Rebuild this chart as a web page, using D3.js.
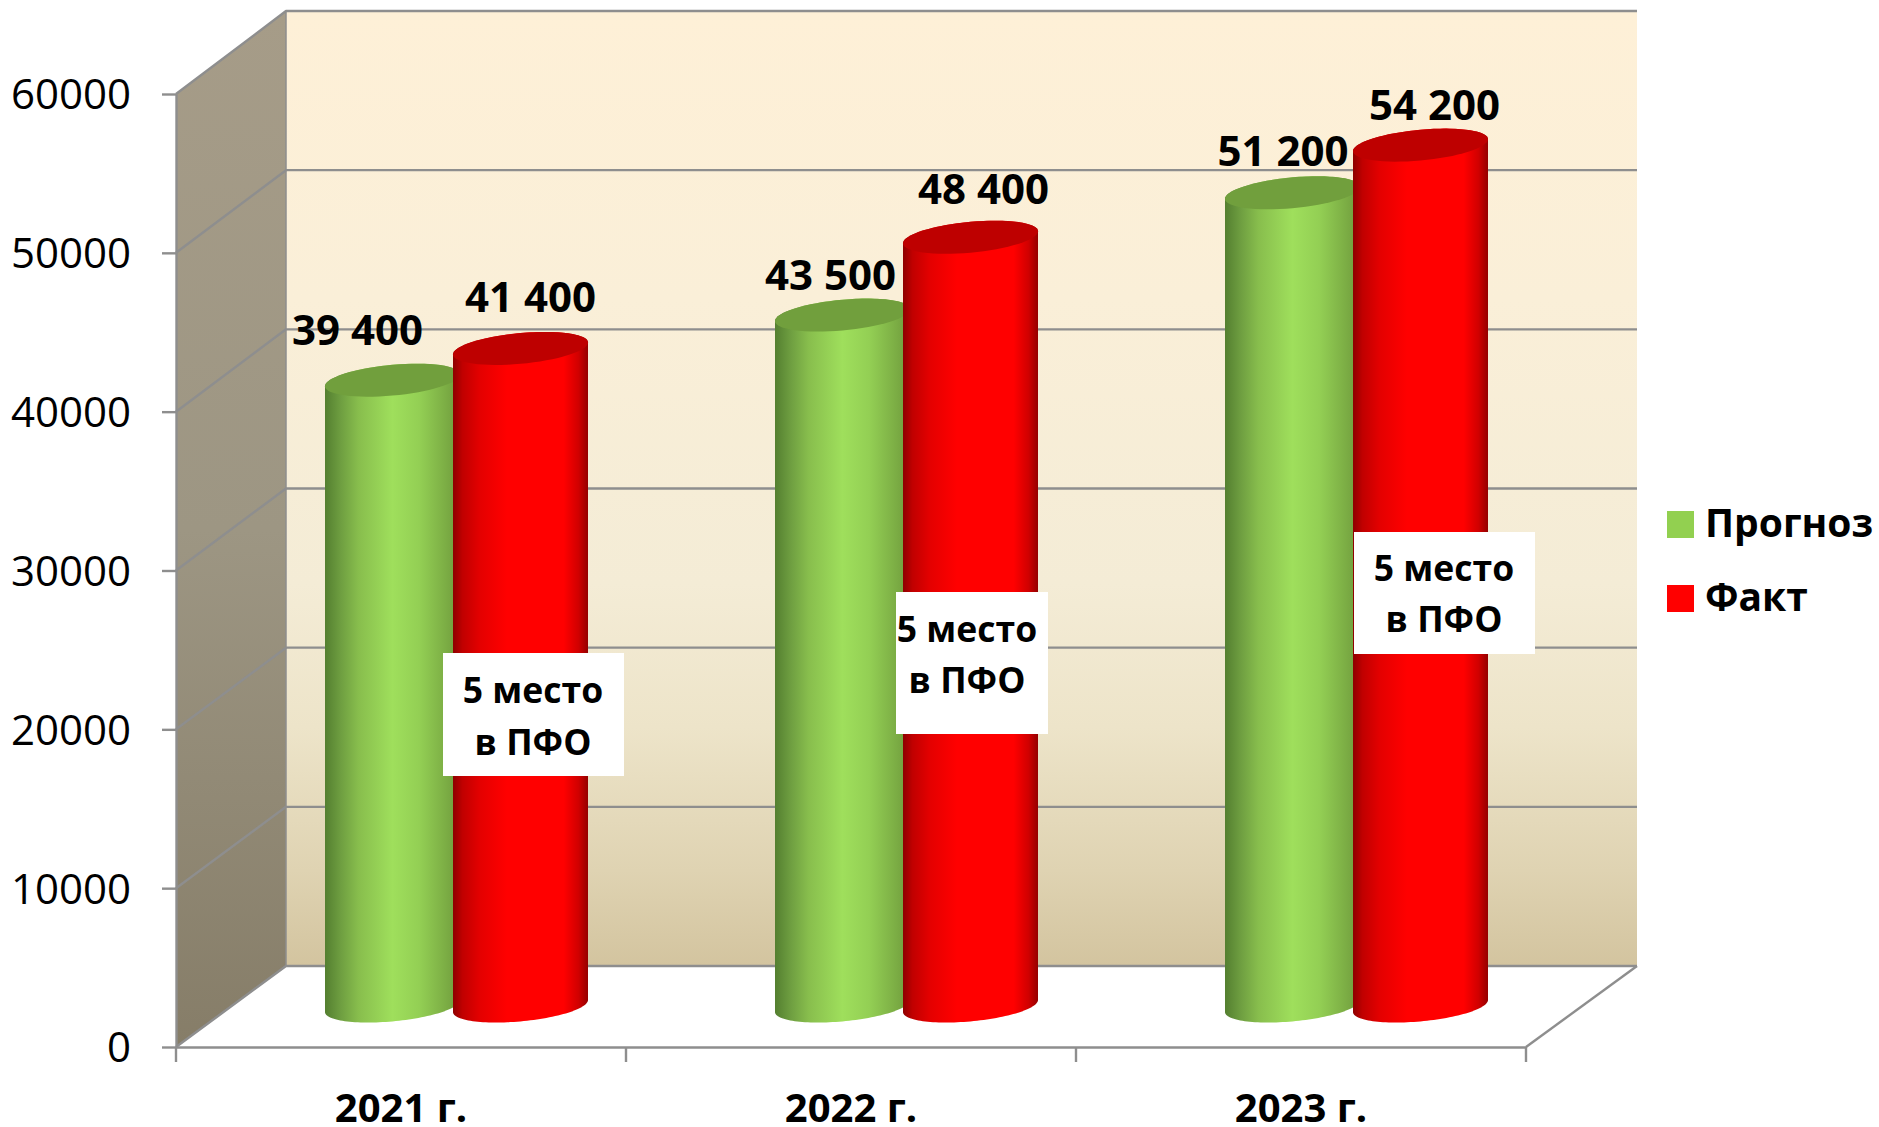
<!DOCTYPE html>
<html><head><meta charset="utf-8">
<script src="https://cdn.jsdelivr.net/npm/d3@7/dist/d3.min.js"></script>
<style>html,body{margin:0;padding:0;background:#fff;overflow:hidden}svg{display:block}text{font-family:"Open Sans",sans-serif;fill:#000}</style>
</head><body><div id="c"></div>
<script>
const categories = ["2021 г.", "2022 г.", "2023 г."];
const seriesNames = ["Прогноз", "Факт"];
const forecast = [39400, 43500, 51200];
const fact = [41400, 48400, 54200];
const valueLabels = [["39 400", "43 500", "51 200"], ["41 400", "48 400", "54 200"]];
const yTicks = [0, 10000, 20000, 30000, 40000, 50000, 60000];
const noteLines = ["5 место", "в ПФО"];

// layout
const W = 1879, H = 1127;
const front = {l: 176, r: 1526, t: 94, b: 1047};
const back = {l: 286, r: 1637, t: 11, b: 966};
const baseY = 1006, barRx = 67.5, barRy = 15.4, barTilt = 6, depthShift = 55.5;
const labelShift = [[[-35, -35], [-12, -25], [-9.5, -27]], [[10, -36], [13, -33], [14, -25]]];
const notes = [
  {x: 443, y: 653, w: 181, h: 123, cx: 533, base: [703, 755]},
  {x: 896, y: 592, w: 152, h: 142, cx: 967, base: [642, 693]},
  {x: 1354, y: 532, w: 181, h: 122, cx: 1444, base: [581, 632]}
];

const svg = d3.select("#c").append("svg").attr("width", W).attr("height", H);
const defs = svg.append("defs");
function grad(id, x2, y2, stops) {
  const g = defs.append("linearGradient").attr("id", id).attr("x1", 0).attr("y1", 0).attr("x2", x2).attr("y2", y2);
  stops.forEach(s => g.append("stop").attr("offset", s[0]).attr("stop-color", s[1]));
}
grad("wall", 0, 1, [[0, "#FEF0D7"], [0.3, "#FAEFD8"], [0.6, "#F4ECD6"], [0.75, "#EDE4C9"], [0.9, "#DFD3B2"], [1, "#D3C49F"]]);
grad("side", 0, 1, [[0, "#A69C88"], [0.5, "#9D9683"], [1, "#867D68"]]);
grad("cyl0", 1, 0, [[0, "#547F30"], [0.12, "#6F9F41"], [0.25, "#88BE4D"], [0.5, "#9FDF5C"], [0.7, "#93CF54"], [1, "#6F9B3C"]]);
grad("cyl1", 1, 0, [[0, "#8E0000"], [0.07, "#C00000"], [0.2, "#E40000"], [0.4, "#FF0000"], [0.82, "#FF0000"], [0.93, "#D00000"], [1, "#950000"]]);

const yFront = d3.scaleLinear().domain([0, 60000]).range([front.b, front.t]);
const yBack = d3.scaleLinear().domain([0, 60000]).range([back.b, back.t]);
const yBar = d3.scaleLinear().domain([0, 60000]).range([baseY, baseY - (front.b - front.t)]);
const xBand = d3.scaleBand().domain(categories).range([front.l, front.r]);
const xSeries = d3.scalePoint().domain(seriesNames).range([-64, 64]);
const color = d3.scaleOrdinal().domain(seriesNames).range(["#92D050", "#FF0000"]);
const lineCol = "#8E8E8E";

// walls
const pts = a => a.map(p => p.join(",")).join(" ");
svg.append("polygon").attr("points", pts([[back.l, back.t], [back.r, back.t], [back.r, back.b], [back.l, back.b]])).attr("fill", "url(#wall)");
svg.append("polygon").attr("points", pts([[front.l, front.t], [back.l, back.t], [back.l, back.b], [front.l, front.b]])).attr("fill", "url(#side)");

// gridlines
const grid = svg.append("g").attr("stroke", lineCol).attr("stroke-width", 2.4).attr("fill", "none");
grid.selectAll("polyline").data(yTicks).join("polyline")
  .attr("stroke-linejoin", "round")
  .attr("points", d => pts([[front.l, yFront(d)], [back.l, yBack(d)], [back.r, yBack(d)]]));
grid.append("polyline").attr("points", pts([[front.r, front.b], [back.r, back.b]]));
grid.append("line").attr("x1", back.l).attr("x2", back.l).attr("y1", back.t).attr("y2", back.b).attr("stroke-width", 1.5);

// axes
const yAxis = svg.append("g").attr("transform", `translate(${front.l},0)`)
  .call(d3.axisLeft(yFront).tickValues(yTicks).tickFormat(d3.format("d")).tickSize(14).tickSizeOuter(0).tickPadding(31));
yAxis.selectAll("path,line").attr("stroke", lineCol).attr("stroke-width", 2.4);
yAxis.selectAll("text").style("font-size", "42px").attr("y", 1.5).attr("font-family", null);

const xAxis = svg.append("g").attr("transform", `translate(0,${front.b})`)
  .call(d3.axisBottom(xBand).tickSize(0).tickPadding(0));
xAxis.select("path").attr("stroke", lineCol).attr("stroke-width", 2.4);
xAxis.selectAll("text").attr("y", 75).attr("dy", 0).style("font-size", "40px").style("font-weight", 700);
xAxis.selectAll("line.edge").data([...categories.map(c => xBand(c)), front.r]).join("line").attr("class", "edge")
  .attr("x1", d => d).attr("x2", d => d).attr("y1", 0).attr("y2", 15)
  .attr("stroke", lineCol).attr("stroke-width", 2.4);

// cylinders
const N = 64;
function cx(cat, s) { return xBand(cat) + xBand.bandwidth() / 2 + depthShift + xSeries(s); }
const arcPt = (c, cy, t) => [c + barRx * Math.cos(t), cy + barRy * Math.sin(t) - barTilt * Math.cos(t)];
const line = d3.line();
function bodyPath(c, yt, yb) {
  const bottom = d3.range(N + 1).map(i => arcPt(c, yb, Math.PI * i / N));
  const top = d3.range(N + 1).map(i => arcPt(c, yt, Math.PI + Math.PI * i / N));
  return line(bottom.concat(top)) + "Z";
}
function topPath(c, yt) { return line(d3.range(N).map(i => arcPt(c, yt, 2 * Math.PI * i / N))) + "Z"; }
function capFill(sIdx) { return sIdx === 0 ? "#719F3D" : "#BE0000"; }

const seriesValues = [forecast, fact];
seriesNames.forEach((s, si) => {
  const g = svg.append("g").attr("class", "series");
  const rows = categories.map((c, i) => ({c, v: seriesValues[si][i]}));
  g.selectAll("path.body").data(rows).join("path").attr("class", "body")
    .attr("d", d => bodyPath(cx(d.c, s), yBar(d.v), yBar(0))).attr("fill", `url(#cyl${si})`);
  g.selectAll("path.cap").data(rows).join("path").attr("class", "cap")
    .attr("d", d => topPath(cx(d.c, s), yBar(d.v))).attr("fill", capFill(si));
});

// value labels
seriesNames.forEach((s, si) => {
  svg.append("g").selectAll("text").data(categories).join("text")
    .attr("x", (c, i) => cx(c, s) + labelShift[si][i][0])
    .attr("y", (c, i) => yBar(seriesValues[si][i]) + labelShift[si][i][1])
    .attr("text-anchor", "middle").style("font-size", "42px").style("font-weight", 700)
    .text((c, i) => valueLabels[si][i]);
});

// notes
notes.forEach(n => {
  const g = svg.append("g");
  g.append("rect").attr("x", n.x).attr("y", n.y).attr("width", n.w).attr("height", n.h).attr("fill", "#fff");
  g.selectAll("text").data(noteLines).join("text").attr("x", n.cx).attr("y", (d, i) => n.base[i])
    .attr("text-anchor", "middle").style("font-size", "35.5px").style("font-weight", 700).text(d => d);
});

// legend
const legendY = d3.scalePoint().domain(seriesNames).range([511, 585]);
const leg = svg.append("g");
leg.selectAll("rect").data(seriesNames).join("rect")
  .attr("x", 1667).attr("y", d => legendY(d)).attr("width", 27).attr("height", 27).attr("fill", d => color(d));
leg.selectAll("text").data(seriesNames).join("text")
  .attr("x", 1705).attr("y", d => legendY(d) + 26)
  .style("font-size", "39px").style("font-weight", 700).text(d => d);
</script></body></html>
